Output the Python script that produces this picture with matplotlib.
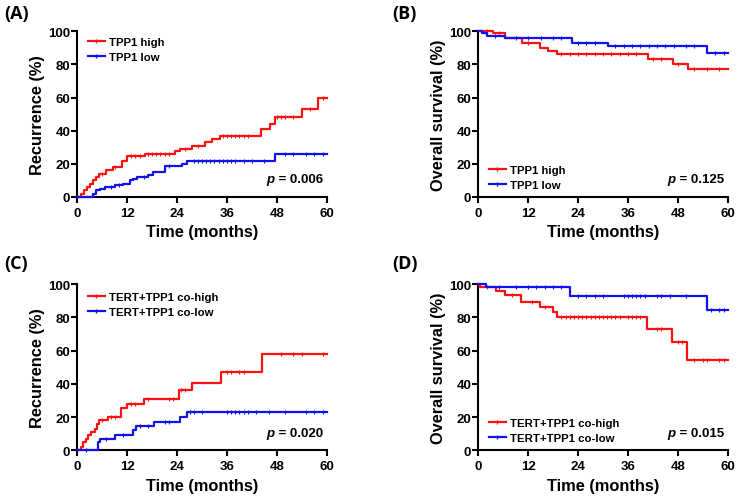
import numpy as np
import matplotlib
matplotlib.use("Agg")
import matplotlib.pyplot as plt
from matplotlib.lines import Line2D

# ---------------- data ----------------
# Panel A: recurrence, TPP1
a_high_t = [0, 1.0, 1.6, 2.3, 3.0, 3.8, 4.6, 5.2, 7.0, 8.7, 10.7, 11.9, 16.3, 23.5, 24.7, 27.5, 30.7, 32.3, 34.3, 44.3, 46.3, 47.5, 54.0, 58.0, 60]
a_high_y = [0, 2, 4, 6, 8, 10, 12, 14, 16, 18, 22, 25, 26, 28, 29, 31, 33, 35, 37, 41, 44, 48, 53, 60, 60]
a_low_t = [0, 3.7, 4.6, 5.5, 6.7, 9.0, 11.0, 12.7, 13.5, 14.3, 17.0, 18.3, 21.1, 25.1, 26.3, 47.6, 60]
a_low_y = [0, 2, 4, 5, 6, 7, 8, 10, 11, 12, 13, 15, 19, 20, 22, 26, 26]
a_high_cens = [6, 9, 13, 14, 15, 17, 18, 19, 20, 21, 22, 26, 29, 35, 36, 37, 38, 39, 40, 41, 48, 49, 50, 52, 56, 59]
a_low_cens = [8, 10, 16, 22, 28, 29, 30, 31, 32, 33, 34, 35, 36, 37, 38, 40, 42, 45, 50, 52, 55, 57, 59]

# Panel B: overall survival, TPP1
b_high_t = [0, 3.5, 6.4, 10.4, 14.8, 16.8, 18.9, 40.9, 46.9, 50.4, 60]
b_high_y = [100, 99, 96, 93, 90, 88, 86, 83, 80, 77, 77]
b_low_t = [0, 0.8, 2.0, 6.4, 22.5, 31.2, 54.9, 60]
b_low_y = [100, 99, 97, 96, 93, 91, 87, 87]
b_high_cens = [2, 5, 12, 20, 22, 24, 26, 28, 30, 32, 34, 36, 38, 42, 44, 48, 52, 55, 58]
b_low_cens = [4, 9, 12, 15, 18, 20, 24, 26, 28, 33, 35, 37, 39, 41, 43, 45, 47, 50, 52, 57, 59]

# Panel C: recurrence, TERT+TPP1
c_high_t = [0, 1.0, 1.4, 2.1, 2.6, 3.4, 4.2, 4.8, 5.2, 7.5, 10.4, 11.9, 16.0, 24.5, 27.5, 34.5, 44.5, 60]
c_high_y = [0, 2, 5, 7, 9, 11, 13, 16, 18, 20, 25.5, 28, 31, 36, 40.5, 47.3, 58, 58]
c_low_t = [0, 4.9, 5.5, 9.1, 13.5, 14.1, 18.4, 24.7, 26.3, 60]
c_low_y = [0, 5, 7, 9.5, 12, 14.5, 17, 20, 23, 23]
c_high_cens = [6, 8, 9, 13, 14, 17, 22, 23, 25, 26, 36, 37, 39, 40, 49, 52, 54, 59]
c_low_cens = [2, 7, 11, 15, 17, 21, 22, 27, 28, 30, 36, 37, 38, 39, 40, 41, 43, 46, 50, 55, 57, 59]

# Panel D: overall survival, TERT+TPP1
d_high_t = [0, 0.4, 4.3, 6.4, 10.2, 14.9, 17.9, 18.9, 40.6, 46.6, 50.2, 60]
d_high_y = [100, 98, 96, 93.5, 89, 86, 83, 80, 73, 65, 54, 54]
d_low_t = [0, 1.8, 22.1, 54.9, 60]
d_low_y = [100, 98, 92.5, 84.5, 84.5]
d_high_cens = [2, 8, 13, 16, 20, 21, 22, 23, 24, 25, 26, 27, 28, 29, 30, 31, 32, 33, 34, 36, 37, 38, 39, 43, 44, 48, 49, 52, 54, 55, 58, 59]
d_low_cens = [5, 9, 12, 14, 16, 18, 20, 24, 26, 28, 30, 35, 36, 37, 38, 39, 40, 43, 44, 46, 50, 56, 58, 59]

panel_labels = ["(A)", "(B)", "(C)", "(D)"]
ylabels = ["Recurrence (%)", "Overall survival (%)", "Recurrence (%)", "Overall survival (%)"]
legend_names = [["TPP1 high", "TPP1 low"], ["TPP1 high", "TPP1 low"],
                ["TERT+TPP1 co-high", "TERT+TPP1 co-low"], ["TERT+TPP1 co-high", "TERT+TPP1 co-low"]]
pvalues = ["0.006", "0.125", "0.020", "0.015"]
xticks = [0, 12, 24, 36, 48, 60]
yticks = [0, 20, 40, 60, 80, 100]

RED = "#FF1010"
BLUE = "#1010F0"
FONT = "Liberation Sans"

plt.rcParams["font.family"] = FONT

fig = plt.figure(figsize=(7.39, 5.02), dpi=100)
W, H = 739, 502

def ax_rect(x0, x1, ytop, ybot):
    return [x0 / W, (H - ybot) / H, (x1 - x0) / W, (ybot - ytop) / H]

rects = [ax_rect(77.3, 326.7, 32.3, 198.0),
         ax_rect(478.3, 727.7, 32.3, 198.0),
         ax_rect(77.3, 326.7, 285.0, 451.3),
         ax_rect(478.3, 727.7, 285.0, 451.3)]
label_pos = [(4, 5), (392, 5), (4, 255), (392, 255)]

series = [(a_high_t, a_high_y, a_high_cens, a_low_t, a_low_y, a_low_cens),
          (b_high_t, b_high_y, b_high_cens, b_low_t, b_low_y, b_low_cens),
          (c_high_t, c_high_y, c_high_cens, c_low_t, c_low_y, c_low_cens),
          (d_high_t, d_high_y, d_high_cens, d_low_t, d_low_y, d_low_cens)]

def step_val(t, y, x):
    t = np.asarray(t); y = np.asarray(y)
    idx = np.searchsorted(t, x, side="right") - 1
    return y[np.clip(idx, 0, len(y) - 1)]

for i in range(4):
    ax = fig.add_axes(rects[i])
    ht, hy, hc, lt, ly, lc = series[i]
    for (t, y, c, col) in [(ht, hy, hc, RED), (lt, ly, lc, BLUE)]:
        ax.step(t, y, where="post", color=col, lw=1.6, clip_on=False, zorder=3)
        cy = step_val(t, y, np.asarray(c))
        ax.plot(c, cy, ls="none", marker="|", ms=2.5, mew=0.8, color=col, clip_on=False, zorder=3)
    ax.set_xlim(0, 60)
    ax.set_ylim(0, 100)
    ax.set_xticks(xticks)
    ax.set_yticks(yticks)
    for s in ["top", "right"]:
        ax.spines[s].set_visible(False)
    for s in ["left", "bottom"]:
        ax.spines[s].set_linewidth(1.5)
    ax.tick_params(direction="out", length=4, width=1.5, labelsize=9.5)
    ax.tick_params(axis="x", pad=3)
    ax.tick_params(axis="y", pad=1)
    for lab in ax.get_xticklabels() + ax.get_yticklabels():
        lab.set_fontweight("bold")
    ax.set_xlabel("Time (months)", fontsize=11.8, fontweight="bold", labelpad=4)
    ax.set_ylabel(ylabels[i], fontsize=11.8, fontweight="bold", labelpad=2)

    handles = [Line2D([0], [0], color=RED, lw=1.6, marker="|", ms=2.5),
               Line2D([0], [0], color=BLUE, lw=1.6, marker="|", ms=2.5)]
    if i == 0:
        loc = "upper left"; anchor = (0.0, 1.03)
    elif i == 2:
        loc = "upper left"; anchor = (0.0, 1.015)
    else:
        loc = "lower left"; anchor = (0.0, -0.02)
    ax.legend(handles, legend_names[i], loc=loc, bbox_to_anchor=anchor, frameon=False,
              prop={"family": FONT, "weight": "bold", "size": 8.2},
              handlelength=1.5, handletextpad=0.35, labelspacing=0.45, borderaxespad=0.5)

    t_num = ax.text(0.985, 0.07, " = " + pvalues[i], transform=ax.transAxes, ha="right", va="bottom",
                    fontsize=9.5, fontweight="bold")
    ax.annotate("p", xy=(0, 0), xycoords=t_num, ha="right", va="bottom",
                fontsize=9.5, fontweight="bold", fontstyle="italic")

    fig.text(label_pos[i][0] / W, 1 - label_pos[i][1] / H, panel_labels[i], ha="left", va="top",
             fontsize=13, fontweight="bold", family="Open Sans")

fig.savefig("out.png", dpi=100)
